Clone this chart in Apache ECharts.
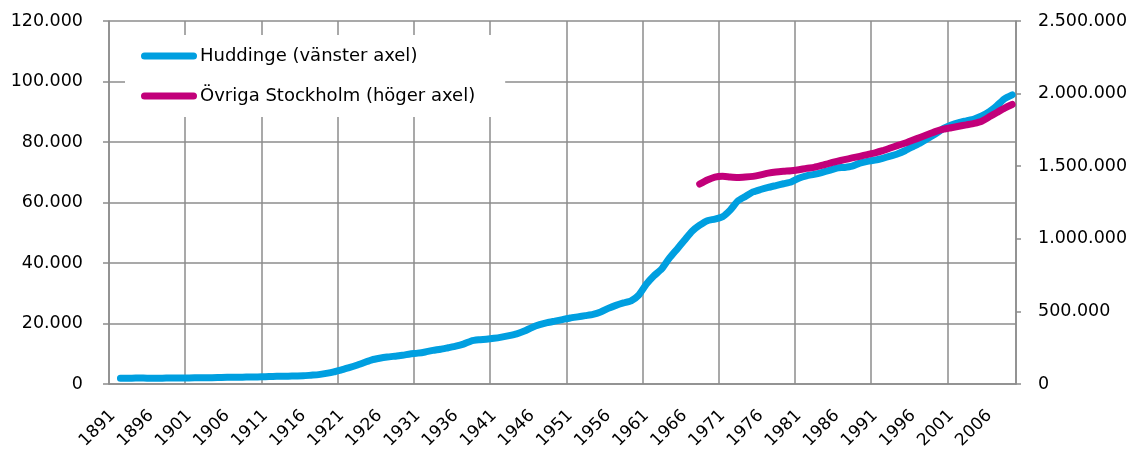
<!DOCTYPE html>
<html>
<head>
<meta charset="utf-8">
<script src="https://cdn.jsdelivr.net/npm/echarts@6/dist/echarts.min.js"></script>
<style>
html,body{margin:0;padding:0;background:#fff;}
#chart{width:1137px;height:450px;}
</style>
</head>
<body>
<div id="chart"></div>
<script>
// Years 1891..2009
const years = [];
for (let y = 1891; y <= 2009; y++) years.push(String(y));

const seriesNames = ['Huddinge (vänster axel)', 'Övriga Stockholm (höger axel)'];

// Huddinge, population (left axis), 1891..2009 (1891 missing)
const huddinge = [
  null, 1900, 1900, 1950, 1950, 1900, 1900, 1950, 1950, 2000,
  2000, 2050, 2100, 2100, 2150, 2200, 2200, 2250, 2300, 2350,
  2400, 2500, 2550, 2600, 2650, 2700, 2900, 3100, 3500, 4000,
  4700, 5400, 6200, 7100, 8000, 8500, 8900, 9200, 9500, 9900,
  10200, 10600, 11100, 11500, 12000, 12500, 13200, 14200, 14600, 14800,
  15100, 15500, 16000, 16600, 17500, 18700, 19600, 20300, 20800, 21300,
  21800, 22200, 22600, 23000, 23800, 25000, 26000, 26800, 27500, 29400,
  33000, 35800, 38000, 41500, 44500, 47500, 50500, 52500, 54000, 54500,
  55300, 57500, 60500, 62000, 63500, 64300, 65000, 65600, 66200, 66800,
  68000, 68800, 69300, 69900, 70600, 71400, 71600, 72000, 73000, 73600,
  74000, 74600, 75300, 76100, 77200, 78500, 79800, 81300, 82800, 84500,
  85600, 86400, 87000, 87600, 88600, 90000, 92000, 94300, 95600
];

// Övriga Stockholm (right axis), 1968..2009
const ovrigaStart = 1968;
const ovrigaValues = [
  1377000, 1405000, 1425000, 1430000, 1425000, 1422000, 1425000, 1430000, 1440000, 1452000,
  1460000, 1465000, 1469000, 1475000, 1485000, 1492000, 1505000, 1520000, 1533000, 1545000,
  1557000, 1568000, 1580000, 1592000, 1607000, 1625000, 1643000, 1660000, 1680000, 1700000,
  1720000, 1740000, 1755000, 1765000, 1775000, 1785000, 1795000, 1810000, 1840000, 1870000,
  1900000, 1925000
];
const ovriga = years.map(y => {
  const i = Number(y) - ovrigaStart;
  return i >= 0 && i < ovrigaValues.length ? ovrigaValues[i] : null;
});

function fmt(v) {
  return String(v).replace(/\B(?=(\d{3})+(?!\d))/g, '.');
}

const FONT = 'DejaVu Sans';
const GRID_COLOR = '#8c8c8c';
const chart = echarts.init(document.getElementById('chart'));
chart.setOption({
  animation: false,
  backgroundColor: '#fff',
  textStyle: { fontFamily: FONT },
  grid: { left: 109, right: 121, top: 21, bottom: 66, containLabel: false, outerBoundsMode: 'none' },
  legend: {
    orient: 'vertical',
    left: 125, top: 35,
    padding: [12, 30, 12, 16],
    backgroundColor: '#fff',
    itemWidth: 56, itemHeight: 7, itemGap: 22,
    icon: 'path://M3.5,0 L52.5,0 A3.5,3.5 0 0 1 52.5,7 L3.5,7 A3.5,3.5 0 0 1 3.5,0 Z',
    textStyle: { fontFamily: FONT, fontSize: 18, color: '#000', padding: [0,0,0,-2] },
    data: seriesNames
  },
  xAxis: {
    type: 'category',
    data: years,
    boundaryGap: true,
    axisLine: { lineStyle: { color: GRID_COLOR, width: 1.5 } },
    axisTick: { interval: 9, length: 5, lineStyle: { color: GRID_COLOR, width: 1.5 } },
    splitLine: { show: true, interval: 9, lineStyle: { color: GRID_COLOR, width: 1.5 } },
    axisLabel: { interval: 4, rotate: 45, margin: 29, fontSize: 17, color: '#000', fontFamily: FONT }
  },
  yAxis: [
    {
      type: 'value', min: 0, max: 120000, interval: 20000, position: 'left',
      axisLine: { show: true, lineStyle: { color: GRID_COLOR, width: 1.5 } },
      axisTick: { show: true, length: 6, lineStyle: { color: GRID_COLOR, width: 1.5 } },
      splitLine: { show: true, lineStyle: { color: GRID_COLOR, width: 1.5 } },
      axisLabel: { formatter: fmt, margin: 26, fontSize: 17.5, color: '#000', fontFamily: FONT }
    },
    {
      type: 'value', min: 0, max: 2500000, interval: 500000, position: 'right',
      axisLine: { show: true, lineStyle: { color: GRID_COLOR, width: 1.5 } },
      axisTick: { show: true, length: 5, lineStyle: { color: GRID_COLOR, width: 1.5 } },
      splitLine: { show: false },
      axisLabel: { formatter: fmt, margin: 22, fontSize: 17.5, color: '#000', fontFamily: FONT }
    }
  ],
  series: [
    {
      name: seriesNames[0], type: 'line', yAxisIndex: 0, data: huddinge,
      showSymbol: false, smooth: 0.2,
      itemStyle: { color: '#009fe0' },
      lineStyle: { color: '#009fe0', width: 7, cap: 'round', join: 'round' }
    },
    {
      name: seriesNames[1], type: 'line', yAxisIndex: 1, data: ovriga,
      showSymbol: false, smooth: 0.2,
      itemStyle: { color: '#c2007a' },
      lineStyle: { color: '#c2007a', width: 7, cap: 'round', join: 'round' }
    }
  ]
});
</script>
</body>
</html>
